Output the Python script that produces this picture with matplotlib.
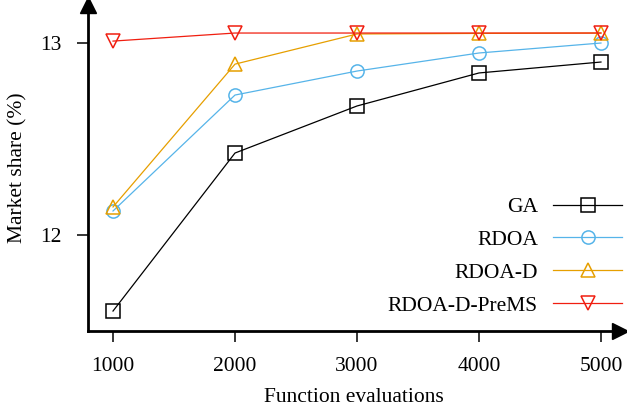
import matplotlib
matplotlib.use("Agg")
import matplotlib.pyplot as plt

plt.rcParams["font.family"] = ["Liberation Serif", "DejaVu Serif"]
plt.rcParams["font.size"] = 15.5

evals = [1000, 2000, 3000, 4000, 5000]
ga = [11.604, 12.427, 12.672, 12.844, 12.901]
rdoa = [12.125, 12.729, 12.854, 12.948, 13.0]
rdoa_d = [12.146, 12.89, 13.047, 13.05, 13.052]
rdoa_d_prems = [13.01, 13.052, 13.052, 13.052, 13.052]

fig = plt.figure(figsize=(6.27, 4.12), dpi=100)
ax = fig.add_axes([88 / 627, 81 / 412, (620 - 88) / 627, (407 - 81) / 412])

style = dict(lw=0.9, ms=9.5, mfc="none", mew=1.1)
ax.plot(evals, ga, "-s", color="black", label="GA", **style)
ax.plot(evals, rdoa, "-o", color="#56B4E9", label="RDOA", **style)
ax.plot(evals, rdoa_d, "-^", color="#E69F00", label="RDOA-D", **style)
ax.plot(evals, rdoa_d_prems, "-v", color="#F01E10", label="RDOA-D-PreMS", **style)

ax.set_xlim(795, 5156)
ax.set_ylim(11.5, 13.198)
ax.set_xticks(evals)
ax.set_yticks([12, 13])
for s in ["top", "right"]:
    ax.spines[s].set_visible(False)
for s in ["left", "bottom"]:
    ax.spines[s].set_linewidth(2)
ax.tick_params(direction="out", length=8, width=1.1, pad=11)

# arrow heads on the axes
ax.plot(1, 0, ">k", ms=11, transform=ax.transAxes, clip_on=False)
ax.plot(0, 1, "^k", ms=11, transform=ax.transAxes, clip_on=False)

ax.set_xlabel("Function evaluations", labelpad=8)
ax.set_ylabel("Market share (%)", labelpad=9)

ax.legend(loc="lower right", bbox_to_anchor=(622 / 627, 1 - 316 / 412),
          bbox_transform=fig.transFigure, frameon=False, markerfirst=False,
          handlelength=3.2, handletextpad=0.7, labelspacing=0.6,
          borderpad=0, borderaxespad=0)

fig.savefig("out.png", dpi=100)
